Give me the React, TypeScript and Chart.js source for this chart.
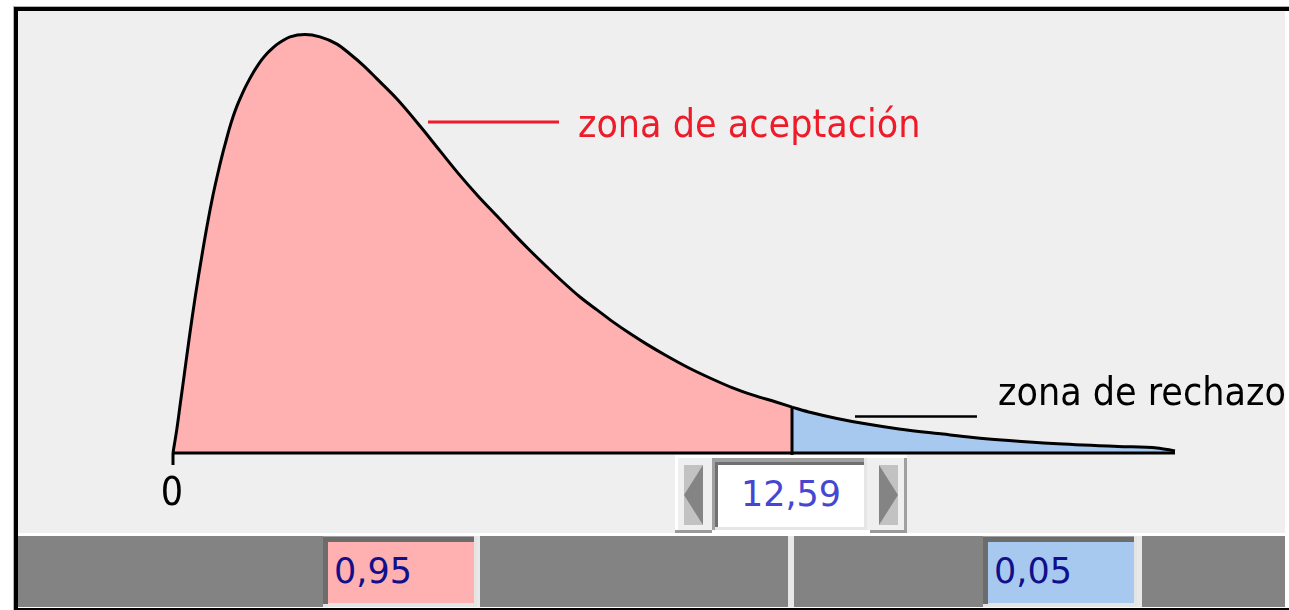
import React, { useEffect, useRef } from "react";
import { Chart, registerables } from "chart.js";

Chart.register(...registerables);

// ---- data (chi-square style density) ----
const acceptX = [0, 0.081, 0.153, 0.214, 0.275, 0.336, 0.397, 0.458, 0.519, 0.58, 0.631, 0.692, 0.753, 0.814, 0.895, 0.956, 1.017, 1.078, 1.139, 1.22, 1.302, 1.383, 1.464, 1.546, 1.627, 1.708, 1.81, 1.912, 2.014, 2.115, 2.237, 2.38, 2.685, 2.99, 3.336, 3.6, 3.864, 4.149, 4.556, 5.024, 5.431, 5.797, 6.203, 6.59, 6.915, 7.261, 7.607, 7.932, 8.278, 8.624, 8.949, 9.295, 9.641, 10.027, 10.475, 10.922, 11.37, 11.817, 12.264, 12.59];
const acceptY = [0, 0.0083, 0.017, 0.0243, 0.0317, 0.039, 0.046, 0.0527, 0.059, 0.065, 0.07, 0.0757, 0.081, 0.086, 0.092, 0.0963, 0.1003, 0.104, 0.1077, 0.112, 0.1157, 0.1188, 0.1217, 0.1243, 0.1267, 0.1288, 0.1312, 0.1332, 0.1348, 0.1362, 0.1375, 0.1387, 0.1395, 0.1387, 0.1363, 0.133, 0.1293, 0.1247, 0.118, 0.109, 0.1007, 0.0933, 0.0857, 0.079, 0.0733, 0.0675, 0.062, 0.057, 0.052, 0.0477, 0.0437, 0.0398, 0.0362, 0.0325, 0.0285, 0.025, 0.0218, 0.0192, 0.017, 0.0153];
const rejectX = [12.59, 12.976, 13.505, 14.054, 14.766, 15.661, 16.271, 17.003, 17.898, 19.22, 20.014, 20.38];
const rejectY = [0.0153, 0.0135, 0.0115, 0.0098, 0.008, 0.0063, 0.0052, 0.0042, 0.0032, 0.0022, 0.0017, 0.0007];

const criticalValue = 12.59;
const axisEnd = 20.38;
const criticalLabel = "12,59";
const acceptProbLabel = "0,95";
const rejectProbLabel = "0,05";
const tickLabels = ["0"];
const tickValues = [0];
const zoneLabels = ["zona de aceptación", "zona de rechazo"];

// ---- layout / style (not data) ----
const X_MIN = -3.1525;
const X_MAX = 22.617;
const Y_MIN = -0.026667;
const Y_MAX = 0.147333;
const PINK = "#ffb0b0";
const BLUE = "#a7c9f0";
const RED = "#ee1c2a";
const LABEL_FONT = "39px 'DejaVu Sans Condensed', 'Liberation Sans', sans-serif";
const NUM_FONT = "'DejaVu Sans', sans-serif";

const pts = (xs: number[], ys: number[]) => xs.map((x, i) => ({ x, y: ys[i] }));

const labelPlugin = {
  id: "zoneLabels",
  afterDatasetsDraw(chart: any) {
    const { ctx, scales } = chart;
    const xs = scales.x;
    const ys = scales.y;
    ctx.save();
    ctx.font = LABEL_FONT;
    ctx.textBaseline = "alphabetic";
    ctx.textAlign = "left";
    ctx.fillStyle = RED;
    ctx.fillText(zoneLabels[0], xs.getPixelForValue(8.237), ys.getPixelForValue(0.1053));
    ctx.fillStyle = "#000";
    ctx.fillText(zoneLabels[1], xs.getPixelForValue(16.78), ys.getPixelForValue(0.016));
    ctx.textAlign = "center";
    tickValues.forEach((v, i) => {
      ctx.fillText(tickLabels[i], xs.getPixelForValue(v) - 1, ys.getPixelForValue(-0.01733));
    });
    ctx.restore();
  },
};

const abs = (left: number, top: number, width: number, height: number, extra: any = {}) => ({
  position: "absolute" as const,
  left,
  top,
  width,
  height,
  boxSizing: "border-box" as const,
  ...extra,
});

function ProbBox({ left, color, text }: { left: number; color: string; text: string }) {
  return (
    <>
      <div style={abs(left, 536, 154, 71, { background: "#e4e4e4" })} />
      <div style={abs(left, 536, 151, 1, { background: "#a0a0a0" })} />
      <div style={abs(left, 537, 151, 5, { background: "#6c6c6c" })} />
      <div style={abs(left, 537, 5, 67, { background: "#6c6c6c" })} />
      <div style={abs(left + 5, 542, 146, 61, { background: color })} />
      <div
        style={abs(left + 11, 554, 140, 36, {
          font: `35px ${NUM_FONT}`,
          lineHeight: "35px",
          color: "#10108c",
          whiteSpace: "nowrap",
        })}
      >
        {text}
      </div>
    </>
  );
}

export default function App() {
  const canvasRef = useRef<HTMLCanvasElement | null>(null);

  useEffect(() => {
    const canvas = canvasRef.current;
    if (!canvas) return;
    const line = (data: any[], color: string, width: number, order: number, extra: any = {}) => ({
      data,
      borderColor: color,
      borderWidth: width,
      pointRadius: 0,
      tension: 0,
      fill: false,
      order,
      borderCapStyle: "butt",
      ...extra,
    });
    const critY = acceptY[acceptY.length - 1];
    const curve = { cubicInterpolationMode: "monotone" };
    const chart = new Chart(canvas, {
      type: "line",
      data: {
        datasets: [
          line(pts(acceptX, acceptY), "#000", 3, 5, { ...curve, fill: "origin", backgroundColor: PINK }),
          line(pts(rejectX, rejectY), "#000", 3, 5, { ...curve, fill: "origin", backgroundColor: BLUE }),
          line([{ x: 0, y: 0 }, { x: axisEnd, y: 0 }], "#000", 3, 1),
          line([{ x: criticalValue, y: 0 }, { x: criticalValue, y: critY }], "#000", 3, 1),
          line([{ x: 0, y: 0 }, { x: 0, y: -0.004 }], "#000", 3, 1),
          line([{ x: criticalValue, y: 0 }, { x: criticalValue, y: -0.0017 }], "#000", 3, 1),
          line([{ x: 5.186, y: 0.1103 }, { x: 7.851, y: 0.1103 }], RED, 3, 1),
          line([{ x: 13.871, y: 0.0122 }, { x: 16.352, y: 0.0122 }], "#000", 2.5, 1),
        ],
      },
      options: {
        animation: false,
        responsive: false,
        maintainAspectRatio: false,
        devicePixelRatio: 1,
        layout: { padding: 0 },
        events: [],
        scales: {
          x: { type: "linear", min: X_MIN, max: X_MAX, display: false },
          y: { type: "linear", min: Y_MIN, max: Y_MAX, display: false },
        },
        plugins: {
          legend: { display: false },
          tooltip: { enabled: false },
          title: { display: false },
        },
      },
      plugins: [labelPlugin],
    } as any);
    return () => chart.destroy();
  }, []);

  return (
    <div style={abs(0, 0, 1289, 610, { background: "#fff", overflow: "hidden" })}>
      {/* frame */}
      <div style={abs(13, 6, 1276, 1, { background: "#b4b4b4" })} />
      <div style={abs(13, 6, 1, 604, { background: "#b4b4b4" })} />
      <div style={abs(14, 7, 1275, 4, { background: "#000" })} />
      <div style={abs(14, 7, 4, 603, { background: "#000" })} />
      <div style={abs(14, 608, 1275, 2, { background: "#000" })} />
      {/* plot */}
      <canvas
        ref={canvasRef}
        width={1267}
        height={522}
        style={{ position: "absolute", left: 18, top: 11, width: 1267, height: 522, background: "#efefef" }}
      />
      {/* spinner */}
      <div style={abs(675, 455, 232, 78, { background: "#fff" })} />
      <div style={abs(678, 458, 34, 72, { background: "#efefef" })} />
      <div style={abs(684, 465, 19, 60, { background: "#c2c2c2" })} />
      <div
        style={abs(684, 465, 0, 0, {
          borderTop: "30px solid transparent",
          borderBottom: "30px solid transparent",
          borderRight: "19px solid #848484",
        })}
      />
      <div style={abs(675, 530, 37, 3, { background: "#9a9a9a" })} />
      <div style={abs(712, 458, 155, 72, { background: "#e6e6e6" })} />
      <div style={abs(712, 458, 152, 4, { background: "#a0a0a0" })} />
      <div style={abs(712, 458, 3, 72, { background: "#a0a0a0" })} />
      <div style={abs(715, 462, 149, 3, { background: "#707070" })} />
      <div style={abs(715, 462, 3, 65, { background: "#707070" })} />
      <div style={abs(718, 465, 146, 62, { background: "#fff" })} />
      <div
        style={abs(718, 477, 146, 36, {
          font: `35px ${NUM_FONT}`,
          lineHeight: "35px",
          color: "#4646d2",
          textAlign: "center",
          whiteSpace: "nowrap",
        })}
      >
        {criticalLabel}
      </div>
      <div style={abs(867, 458, 37, 72, { background: "#efefef" })} />
      <div style={abs(879, 465, 19, 60, { background: "#c2c2c2" })} />
      <div
        style={abs(879, 465, 0, 0, {
          borderTop: "30px solid transparent",
          borderBottom: "30px solid transparent",
          borderLeft: "19px solid #848484",
        })}
      />
      <div style={abs(904, 458, 3, 75, { background: "#a0a0a0" })} />
      <div style={abs(870, 530, 37, 3, { background: "#9a9a9a" })} />
      {/* bottom bar */}
      <div style={abs(18, 536, 1267, 71, { background: "#838383" })} />
      <div style={abs(477, 536, 3, 71, { background: "#e8e8e8" })} />
      <div style={abs(788, 536, 6, 71, { background: "#e8e8e8" })} />
      <div style={abs(1137, 536, 5, 71, { background: "#e8e8e8" })} />
      <ProbBox left={323} color={PINK} text={acceptProbLabel} />
      <ProbBox left={983} color={BLUE} text={rejectProbLabel} />
    </div>
  );
}
